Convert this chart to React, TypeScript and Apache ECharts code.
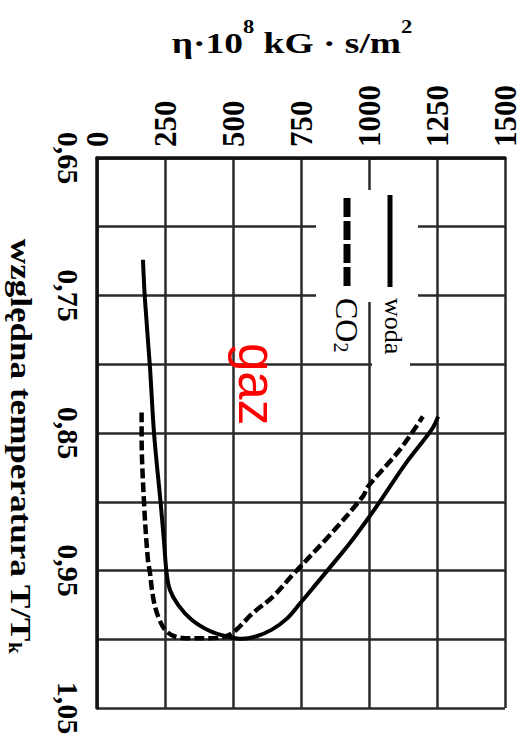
import React, { useEffect, useRef } from "react";
import * as echarts from "echarts";

// η·10^8 [kG·s/m²] axis (top, horizontal)
const etaMin = 0;
const etaMax = 1500;
const etaStep = 250;

// relative temperature T/Tk axis (left, vertical, downward)
const tMin = 0.65;
const tMax = 1.05;
const tStep = 0.05;

// water ("woda") — solid curve: [η, T/Tk]
const wodaEta = [169, 176, 195, 210, 234, 246, 256, 268, 298, 349, 415, 478, 533, 584, 643, 698, 746, 801, 868, 930, 990, 1050, 1132, 1232, 1254];
const wodaT = [0.724, 0.752, 0.803, 0.851, 0.901, 0.928, 0.952, 0.964, 0.975, 0.986, 0.994, 0.998, 0.9997, 0.998, 0.993, 0.985, 0.974, 0.961, 0.945, 0.93, 0.914, 0.897, 0.873, 0.847, 0.838];

// CO2 — dashed curve: [η, T/Tk]
const co2Eta = [164, 164, 173, 187, 195, 202, 213, 232, 254, 287, 342, 415, 471, 507, 573, 647, 720, 857, 978, 996, 1114, 1198];
const co2T = [0.835, 0.851, 0.901, 0.942, 0.952, 0.964, 0.976, 0.987, 0.994, 0.998, 0.9993, 0.9993, 0.998, 0.994, 0.981, 0.969, 0.953, 0.924, 0.896, 0.889, 0.862, 0.838];

const legendNames = ["woda", "CO"];
const regionLabel = "gaz";
const xTitle = "η·10";
const yTitle = "względna temperatura T/T";

const pairs = (xs: number[], ys: number[]) => xs.map((x, i) => [x, ys[i]]);

export default function App() {
  const ref = useRef<HTMLDivElement>(null);
  useEffect(() => {
    if (!ref.current) return;
    const chart = echarts.init(ref.current, null, { renderer: "svg" });
    const serif = "'Liberation Serif', 'DejaVu Serif', serif";
    const option: any = {
      animation: false,
      backgroundColor: "#fff",
      grid: { left: 97, right: 21, top: 158, bottom: 45, outerBoundsMode: "none", containLabel: false },
      xAxis: {
        type: "value",
        position: "top",
        min: etaMin,
        max: etaMax,
        interval: etaStep,
        axisLine: { show: true, lineStyle: { color: "#111", width: 3.5 } },
        axisTick: { show: false },
        axisLabel: {
          rotate: -90,
          margin: 11,
          fontSize: 31,
          fontWeight: "bold",
          fontFamily: serif,
          color: "#000",
          formatter: (v: number) => String(v),
        },
        splitLine: { show: true, lineStyle: { color: "#2a2a2a", width: 2.5 } },
      },
      yAxis: {
        type: "value",
        inverse: true,
        min: tMin,
        max: tMax,
        interval: tStep,
        axisLine: { show: true, lineStyle: { color: "#111", width: 3.5 } },
        axisTick: { show: false },
        axisLabel: {
          rotate: -90,
          margin: 14,
          fontSize: 30,
          fontWeight: "bold",
          fontFamily: serif,
          color: "#000",
          formatter: (v: number) => {
            const k = Math.round((v - tMin) / tStep);
            if (k % 2 !== 0) return "";
            return v.toFixed(2).replace(".", ",");
          },
        },
        splitLine: { show: true, lineStyle: { color: "#2a2a2a", width: 2.5 } },
      },
      series: [
        {
          name: legendNames[0],
          type: "line",
          data: pairs(wodaEta, wodaT),
          showSymbol: false,
          symbol: "none",
          smooth: 0.35,
          lineStyle: { color: "#000", width: 4, type: "solid" },
          z: 5,
        },
        {
          name: legendNames[1],
          type: "line",
          data: pairs(co2Eta, co2T),
          showSymbol: false,
          symbol: "none",
          smooth: 0.35,
          lineStyle: { color: "#000", width: 4.5, type: [10, 4] },
          z: 5,
        },
      ],
      graphic: [
        { type: "rect", z: 50, shape: { x: 316, y: 190, width: 102, height: 112 }, style: { fill: "#fff" } },
        { type: "rect", z: 50, shape: { x: 372, y: 300, width: 38, height: 72 }, style: { fill: "#fff" } },
        { type: "line", z: 60, shape: { x1: 390, y1: 195, x2: 390, y2: 287 }, style: { stroke: "#000", lineWidth: 5 } },
        { type: "line", z: 60, shape: { x1: 347, y1: 198, x2: 347, y2: 290 }, style: { stroke: "#000", lineWidth: 7, lineDash: [19, 4] } },
        {
          type: "text", z: 60, x: 393, y: 298, rotation: -Math.PI / 2,
          style: { text: legendNames[0], fontSize: 26, fontFamily: serif, fill: "#000", align: "left", verticalAlign: "middle" },
        },
        {
          type: "text", z: 60, x: 347, y: 298, rotation: -Math.PI / 2,
          style: {
            text: `{a|${legendNames[1]}}{s|2}`,
            fill: "#000", align: "left", verticalAlign: "middle",
            rich: {
              a: { fontSize: 32, fontFamily: serif, fill: "#000", verticalAlign: "middle" },
              s: { fontSize: 20, fontFamily: serif, fill: "#000", verticalAlign: "bottom", padding: [12, 0, 0, 0] },
            },
          },
        },
        {
          type: "text", z: 60, x: 256, y: 343, rotation: -Math.PI / 2,
          style: { text: regionLabel, fontSize: 51, fontFamily: "'Liberation Sans', Arial, sans-serif", fill: "#ff0000", align: "left", verticalAlign: "middle" },
        },
        {
          type: "text", z: 60, x: 292, y: 38, scaleX: 1.25,
          style: {
            text: `{a|${xTitle}}{s|8}{a| kG · s/m}{s|2}`,
            align: "center", verticalAlign: "middle", fill: "#000",
            rich: {
              a: { fontSize: 30, fontWeight: "bold", fontFamily: serif, fill: "#000", verticalAlign: "bottom", lineHeight: 40 },
              s: { fontSize: 18, fontWeight: "bold", fontFamily: serif, fill: "#000", verticalAlign: "top" },
            },
          },
        },
        {
          type: "text", z: 60, x: 21, y: 446, rotation: -Math.PI / 2, scaleX: 1.17,
          style: {
            text: `{a|${yTitle}}{s|k}`,
            align: "center", verticalAlign: "middle", fill: "#000",
            rich: {
              a: { fontSize: 30, fontWeight: "bold", fontFamily: serif, fill: "#000", verticalAlign: "middle" },
              s: { fontSize: 18, fontWeight: "bold", fontFamily: serif, fill: "#000", verticalAlign: "bottom" },
            },
          },
        },
      ],
    };
    chart.setOption(option);
    return () => chart.dispose();
  }, []);
  return (
    <div
      ref={ref}
      style={{ position: "fixed", left: 0, top: 0, width: 526, height: 753, background: "#fff" }}
    />
  );
}
